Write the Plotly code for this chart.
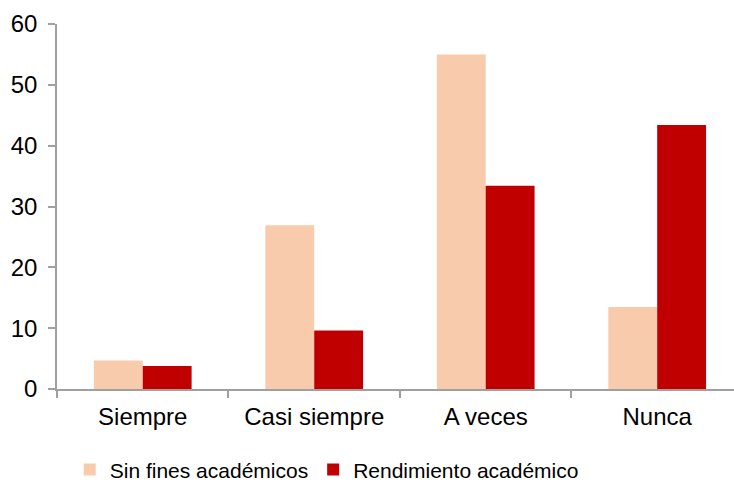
import plotly.graph_objects as go

categories = ["Siempre", "Casi siempre", "A veces", "Nunca"]
sin_fines = [4.7, 26.9, 55.0, 13.5]
rendimiento = [3.8, 9.6, 33.4, 43.4]
series_names = ["Sin fines académicos", "Rendimiento académico"]
y_ticks = [0, 10, 20, 30, 40, 50, 60]

FONT = "Liberation Sans, Arial, sans-serif"
AXIS = "#A0A0A0"

fig = go.Figure()
fig.add_trace(go.Bar(x=categories, y=sin_fines, name=series_names[0],
                     marker=dict(color="#F8CBAD", line=dict(width=0))))
fig.add_trace(go.Bar(x=categories, y=rendimiento, name=series_names[1],
                     marker=dict(color="#C00000", line=dict(width=0))))

fig.update_layout(
    width=734, height=484,
    margin=dict(l=57, r=0, t=24, b=95),
    paper_bgcolor="white", plot_bgcolor="white",
    barmode="group", bargap=0.43, bargroupgap=0,
    font=dict(family=FONT, size=24, color="black"),
    showlegend=True,
    legend=dict(orientation="h", xref="container", yref="container",
                x=0.095, y=0.029, xanchor="left", yanchor="middle",
                font=dict(size=21), itemwidth=30, traceorder="normal"),
)
fig.update_xaxes(
    range=[-0.5, 3.448], showline=True, linecolor=AXIS, linewidth=1.5,
    ticks="outside", tickson="boundaries", ticklen=7, tickcolor=AXIS,
    tickwidth=1.5, showgrid=False, zeroline=False, ticklabelstandoff=5,
)
fig.update_yaxes(
    range=[0, 60], tickvals=y_ticks, showline=True, linecolor=AXIS,
    linewidth=1.5, ticks="outside", ticklen=7, tickcolor=AXIS, tickwidth=1.5,
    showgrid=False, zeroline=False, ticklabelstandoff=6,
)

fig.write_html("out.html", config={"displayModeBar": False},
               post_script="document.body.style.margin='0';document.body.style.padding='0';")
